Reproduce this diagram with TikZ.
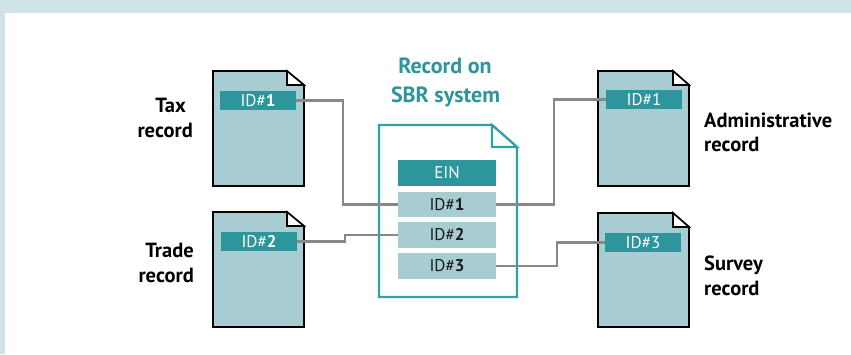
\documentclass[tikz,border=0pt]{standalone}
\usepackage{fontspec}
\setmainfont{PT Sans}
\definecolor{tealA}{HTML}{2C969C}
\definecolor{tealB}{HTML}{34A0A6}
\definecolor{lightB}{HTML}{A7CDD3}
\definecolor{stripB}{HTML}{CFE2E5}
\definecolor{connG}{HTML}{888888}
\definecolor{darkT}{HTML}{1A1A1A}
\newcommand{\paperdoc}[7]{% style, left, top, right, bottom, fold dx, fold dy
  \draw[#1] (#2,#3) -- (#4-#6,#3) -- (#4,#3+#7) -- (#4,#5) -- (#2,#5) -- cycle;
  \draw[#1, fill=white] (#4-#6,#3) -- (#4-#6,#3+#7) -- (#4,#3+#7) -- cycle;}
\begin{document}
\begin{tikzpicture}[x=1pt,y=-1pt,
  sidedoc/.style={draw=black, line width=1.6pt, fill=lightB, line join=miter},
  centdoc/.style={draw=tealB, line width=2.2pt, fill=white, line join=miter},
  sidebar/.style={fill=tealA, text=white, minimum width=76pt, minimum height=19pt, inner sep=0pt, font=\fontsize{17}{18}\selectfont},
  centbar/.style={fill=lightB, text=darkT, minimum width=98pt, minimum height=25.5pt, inner sep=0pt, font=\fontsize{17}{18}\selectfont},
  einbar/.style={fill=tealA, text=white, minimum width=98pt, minimum height=26pt, inner sep=0pt, font=\fontsize{17}{18}\selectfont},
  lbl/.style={inner sep=0pt, text=black, font=\fontsize{20.5}{23}\selectfont\bfseries},
  ttl/.style={inner sep=0pt, text=tealA, font=\fontsize{22}{24}\selectfont\bfseries, anchor=base},
  conn/.style={draw=connG, line width=2.2pt}]
\useasboundingbox (0,0) rectangle (851,354);
\fill[stripB] (0,0) rectangle (851,354);
\fill[white] (5,13) rectangle (851,354);

% documents
\paperdoc{sidedoc}{213}{71}{304}{186}{17}{14}
\paperdoc{sidedoc}{213}{212}{304}{327}{17}{14}
\paperdoc{sidedoc}{598}{71}{689}{186}{16}{14}
\paperdoc{sidedoc}{598}{213}{689}{327}{16}{14}
\paperdoc{centdoc}{379}{125}{517}{297}{25}{22}

% title
\node[ttl] (ttlA) at (445,73) {Record on};
\node[ttl] (ttlB) at (445.5,102) {SBR system};

% labels
\node[lbl, anchor=base east] (taxA) at (186,112) {Tax};
\node[lbl, anchor=base east] (taxB) at (193,137) {record};
\node[lbl, anchor=base east] (trdA) at (194,257) {Trade};
\node[lbl, anchor=base east] (trdB) at (194,282) {record};
\node[lbl, anchor=base west] (admA) at (704,127) {Administrative};
\node[lbl, anchor=base west] (admB) at (704,151) {record};
\node[lbl, anchor=base west] (srvA) at (704,270) {Survey};
\node[lbl, anchor=base west] (srvB) at (704,295) {record};

% bars in side documents
\node[sidebar] (t1) at (258,100.5) {ID\#\textbf{1}};
\node[sidebar] (t2) at (259,241.5) {ID\#\textbf{2}};
\node[sidebar] (a1) at (644,99.5) {ID\#1};
\node[sidebar] (s3) at (643,242.5) {ID\#3};

% bars in central document
\node[einbar] (ein) at (447,173) {EIN};
\node[centbar] (c1) at (447,204.5) {ID\#\textbf{1}};
\node[centbar] (c2) at (447,235) {ID\#\textbf{2}};
\node[centbar] (c3) at (447,266) {ID\#\textbf{3}};

% bend points
\coordinate (kA) at (343,150);
\coordinate (kB) at (345,238);
\coordinate (kC) at (554,150);
\coordinate (kD) at (557,255);

% connectors
\draw[conn] (t1.east) -| (kA) |- (c1.west);
\draw[conn] (t2.east) -| (kB) |- (c2.west);
\draw[conn] (c1.east) -| (kC) |- (a1.west);
\draw[conn] (c3.east) -| (kD) |- (s3.west);
\end{tikzpicture}
\end{document}
